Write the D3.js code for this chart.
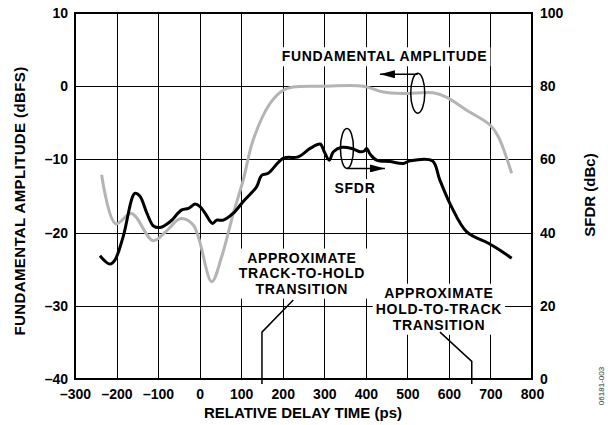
<!DOCTYPE html>
<html>
<head>
<meta charset="utf-8">
<script src="https://cdn.jsdelivr.net/npm/d3@7"></script>
<style>
  body { margin: 0; background: #fff; }
  svg { display: block; font-family: "Liberation Sans", Arial, sans-serif; font-weight: bold; }
</style>
</head>
<body>
<div id="chart"></div>
<script>
// axis ticks
const delayTicks = [-300, -200, -100, 0, 100, 200, 300, 400, 500, 600, 700, 800];
const fundTicks = [-40, -30, -20, -10, 0, 10];
const sfdrTicks = [0, 20, 40, 60, 80, 100];

// fundamental amplitude (dBFS), gray curve
const fundDelay = [-236, -202, -164, -112, -80, -47, -15, 29, 53, 81, 105, 129, 169, 201, 225, 300, 394, 442, 490, 562, 594, 643, 699, 719, 751];
const fundAmp = [-12.1, -18.8, -17.4, -21.1, -19.8, -18.1, -19.0, -26.7, -23.3, -17.4, -12.8, -7.3, -2.4, -0.55, -0.1, 0, 0, -0.8, -1.0, -0.9, -1.5, -3.3, -5.3, -6.9, -11.9];

// SFDR (dBc), black curve
const sfdrDelay = [-240, -216, -204, -184, -156, -144, -127, -111, -95, -71, -43, -27, -11, 1, 13, 31, 41, 57, 81, 105, 137, 149, 165, 201, 237, 266, 290, 300, 312, 322, 342, 366, 386, 396, 402, 410, 426, 458, 490, 506, 560, 578, 606, 643, 695, 723, 751];
const sfdr = [33.7, 31.4, 32.5, 38.9, 50.7, 50, 45.3, 41.8, 41.4, 43, 46.2, 46.6, 47.8, 47.1, 45.3, 42.5, 43.4, 43.4, 45.3, 48.5, 52.5, 55.6, 56.2, 60.3, 60.7, 63, 64.2, 62.1, 59.8, 62.1, 63.3, 63, 62.1, 62.3, 63, 61.5, 59.8, 59.4, 58.9, 59.6, 59.6, 54.4, 47.1, 40.2, 37.1, 35.2, 33];

const trackLabel = ['APPROXIMATE', 'TRACK-TO-HOLD', 'TRANSITION'];
const holdLabel = ['APPROXIMATE', 'HOLD-TO-TRACK', 'TRANSITION'];

const W = 608, H = 425;
const plot = { left: 75, right: 532, top: 13, bottom: 379 };

const svg = d3.select('#chart').append('svg')
    .attr('width', W)
    .attr('height', H);

const x = d3.scaleLinear().domain([-300, 800]).range([plot.left, plot.right]);
const yL = d3.scaleLinear().domain([-40, 10]).range([plot.bottom, plot.top]);
const yR = d3.scaleLinear().domain([0, 100]).range([plot.bottom, plot.top]);

const dash = d => String(d).replace('-', '\u2013');
const crisp = v => Math.round(v) + 0.5;

// grid
const grid = svg.append('g').attr('stroke', '#000').attr('stroke-width', 1);
delayTicks.slice(1, -1).forEach(t => {
    grid.append('line')
        .attr('x1', crisp(x(t))).attr('x2', crisp(x(t)))
        .attr('y1', plot.top).attr('y2', plot.bottom);
});
fundTicks.slice(1, -1).forEach(v => {
    grid.append('line')
        .attr('x1', plot.left).attr('x2', plot.right)
        .attr('y1', crisp(yL(v))).attr('y2', crisp(yL(v)));
});

// axes (labels only, grid and frame drawn separately)
const styleAxis = g => {
    g.select('.domain').remove();
    g.selectAll('text')
        .attr('fill', '#000')
        .style('font-size', '14px')
        .style('font-weight', 'bold')
        .style('font-family', '"Liberation Sans", Arial, sans-serif');
};

svg.append('g')
    .attr('transform', `translate(${plot.left},0)`)
    .call(d3.axisLeft(yL).tickValues(fundTicks).tickSize(0).tickPadding(7).tickFormat(dash))
    .call(styleAxis);

svg.append('g')
    .attr('transform', `translate(${plot.right},0)`)
    .call(d3.axisRight(yR).tickValues(sfdrTicks).tickSize(0).tickPadding(8).tickFormat(dash))
    .call(styleAxis);

svg.append('g')
    .attr('transform', `translate(0,${plot.bottom})`)
    .call(d3.axisBottom(x).tickValues(delayTicks).tickSize(0).tickPadding(10).tickFormat(dash))
    .call(styleAxis);

// axis titles
svg.append('text')
    .attr('transform', `translate(25,201) rotate(-90)`)
    .attr('text-anchor', 'middle')
    .style('font-size', '15px')
    .style('letter-spacing', '0.4px')
    .text('FUNDAMENTAL AMPLITUDE (dBFS)');

svg.append('text')
    .attr('transform', `translate(595,195) rotate(-90)`)
    .attr('text-anchor', 'middle')
    .style('font-size', '15px')
    .text('SFDR (dBc)');

svg.append('text')
    .attr('x', 303)
    .attr('y', 418)
    .attr('text-anchor', 'middle')
    .style('font-size', '15px')
    .text('RELATIVE DELAY TIME (ps)');

svg.append('text')
    .attr('transform', `translate(604,386) rotate(-90)`)
    .attr('text-anchor', 'middle')
    .attr('fill', '#333')
    .style('font-size', '8px')
    .style('font-weight', 'normal')
    .text('06181-003');

// curves
const line = d3.line().curve(d3.curveCatmullRom.alpha(0.5));

svg.append('path')
    .attr('d', line(fundDelay.map((t, i) => [x(t), yL(fundAmp[i])])))
    .attr('fill', 'none')
    .attr('stroke', '#b4b4b4')
    .attr('stroke-width', 3);

svg.append('path')
    .attr('d', line(sfdrDelay.map((t, i) => [x(t), yR(sfdr[i])])))
    .attr('fill', 'none')
    .attr('stroke', '#000')
    .attr('stroke-width', 3);

// labels with white backing
function label(lines, cx, baseline, lead) {
    const g = svg.append('g');
    const txt = g.append('text')
        .attr('text-anchor', 'middle')
        .style('font-size', '14px')
        .style('letter-spacing', '0.7px');
    lines.forEach((s, i) => {
        txt.append('tspan')
            .attr('x', cx)
            .attr('y', baseline + i * lead)
            .text(s);
    });
    const b = txt.node().getBBox();
    g.insert('rect', 'text')
        .attr('x', b.x - 3)
        .attr('y', b.y - 1)
        .attr('width', b.width + 6)
        .attr('height', b.height + 3)
        .attr('fill', '#fff');
}

label(['FUNDAMENTAL AMPLITUDE'], x(445), yL(3.4), 0);
label(['SFDR'], x(374), yR(50.8), 0);
label(trackLabel, x(246), yL(-24.1), 15.5);
label(holdLabel, x(576), yL(-28.9), 16);

// arrows + ellipses
svg.append('defs').append('marker')
    .attr('id', 'head')
    .attr('viewBox', '0 0 15 8')
    .attr('refX', 15).attr('refY', 4)
    .attr('markerUnits', 'userSpaceOnUse')
    .attr('markerWidth', 15).attr('markerHeight', 8)
    .attr('orient', 'auto')
    .append('path')
    .attr('d', 'M0,0L15,4L0,8Z')
    .attr('fill', '#000');

const ann = svg.append('g').attr('stroke', '#000').attr('stroke-width', 1.5).attr('fill', 'none');

ann.append('ellipse')
    .attr('cx', x(525)).attr('cy', yL(-0.96))
    .attr('rx', 7).attr('ry', 20);
ann.append('line')
    .attr('x1', x(525)).attr('y1', yL(-0.96) - 19)
    .attr('x2', x(434)).attr('y2', yL(-0.96) - 19)
    .attr('marker-end', 'url(#head)');

ann.append('ellipse')
    .attr('cx', x(354.6)).attr('cy', yR(63))
    .attr('rx', 6.5).attr('ry', 20);
ann.append('line')
    .attr('x1', x(354.6)).attr('y1', yR(63) + 20)
    .attr('x2', x(446)).attr('y2', yR(63) + 20)
    .attr('marker-end', 'url(#head)');

// transition leaders
ann.append('polyline')
    .attr('points', [[x(150), plot.bottom + 5], [x(150), yL(-33.6)], [x(225.4), yL(-29.2)]].join(' '));
ann.append('polyline')
    .attr('points', [[x(655), plot.bottom + 5], [x(655), yL(-37.6)], [x(578.5), yL(-33.6)]].join(' '));

// frame
svg.append('rect')
    .attr('x', plot.left).attr('y', plot.top)
    .attr('width', plot.right - plot.left)
    .attr('height', plot.bottom - plot.top)
    .attr('fill', 'none')
    .attr('stroke', '#000')
    .attr('stroke-width', 2);
</script>
</body>
</html>
